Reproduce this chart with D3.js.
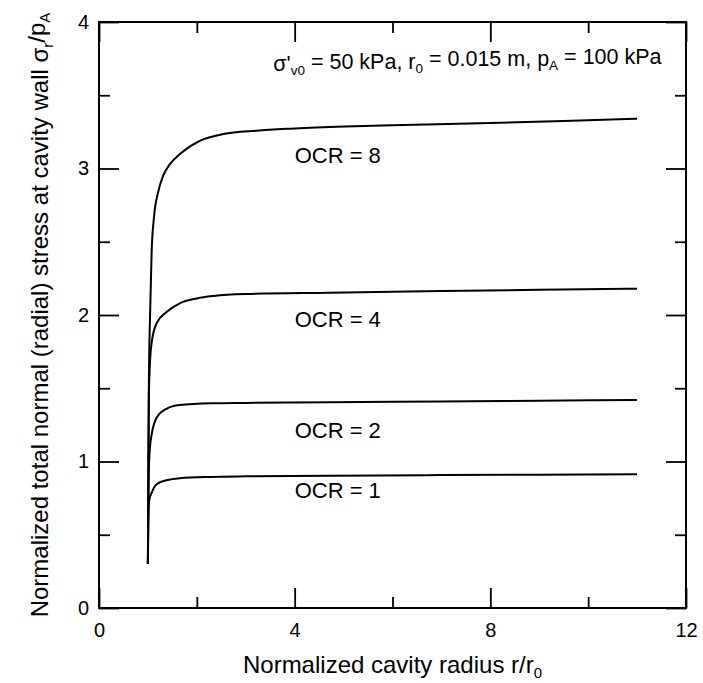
<!DOCTYPE html>
<html>
<head>
<meta charset="utf-8">
<script src="https://cdn.jsdelivr.net/npm/d3@7/dist/d3.min.js"></script>
<style>
  html, body { margin: 0; padding: 0; background: #fff; }
  svg text { font-family: "Liberation Sans", Arial, sans-serif; fill: #000; }
</style>
</head>
<body>
<svg id="chart" width="703" height="683"></svg>
<script>
// Normalized cavity radius r/r0 and normalized radial stress at the cavity wall
const ocr1X = [1.0, 1.004, 1.01, 1.03, 1.08, 1.18, 1.38, 1.65, 2.3, 3.0, 4.7, 7.0, 9.0, 11.0];
const ocr1Y = [0.30, 0.50, 0.66, 0.74, 0.79, 0.845, 0.872, 0.886, 0.895, 0.899, 0.903, 0.907, 0.910, 0.913];

const ocr2X = [1.0, 1.004, 1.01, 1.02, 1.04, 1.08, 1.18, 1.38, 1.65, 2.3, 3.0, 4.7, 7.0, 9.0, 11.0];
const ocr2Y = [0.30, 0.52, 0.76, 0.96, 1.09, 1.19, 1.30, 1.36, 1.385, 1.397, 1.400, 1.405, 1.410, 1.415, 1.420];

const ocr4X = [1.0, 1.004, 1.01, 1.02, 1.04, 1.08, 1.18, 1.38, 1.65, 2.0, 2.35, 3.0, 4.7, 7.0, 9.0, 11.0];
const ocr4Y = [0.30, 0.55, 1.0, 1.45, 1.66, 1.82, 1.945, 2.02, 2.08, 2.113, 2.13, 2.143, 2.152, 2.163, 2.172, 2.180];

const ocr8X = [1.0, 1.004, 1.01, 1.02, 1.043, 1.077, 1.125, 1.21, 1.31, 1.45, 1.66, 2.07, 2.54, 3.22, 3.91, 4.86, 6.0, 8.0, 9.5, 11.0];
const ocr8Y = [0.30, 0.56, 1.05, 1.55, 1.99, 2.44, 2.67, 2.84, 2.95, 3.03, 3.10, 3.19, 3.235, 3.258, 3.272, 3.285, 3.295, 3.310, 3.325, 3.340];

const ocrNames = ["OCR = 1", "OCR = 2", "OCR = 4", "OCR = 8"];
// label anchor (left edge x, baseline y) in data units
const ocrLabelX = [4, 4, 4, 4];
const ocrLabelY = [0.75, 1.162, 1.92, 3.04];

const xMajorTicks = [0, 4, 8, 12];
const xMinorTicks = [2, 6, 10];
const yMajorTicks = [0, 1, 2, 3, 4];
const yMinorTicks = [0.5, 1.5, 2.5, 3.5];

const series = [
  { xs: ocr1X, ys: ocr1Y },
  { xs: ocr2X, ys: ocr2Y },
  { xs: ocr4X, ys: ocr4Y },
  { xs: ocr8X, ys: ocr8Y }
];

const svg = d3.select("#chart");
const plotLeft = 99, plotRight = 686, plotTop = 22, plotBottom = 608;

const x = d3.scaleLinear().domain([0, 12]).range([plotLeft, plotRight]);
const y = d3.scaleLinear().domain([0, 4]).range([plotBottom, plotTop]);

const FONT_TICK = 20;
const MAJOR = 20, MINOR = 11;

function styleAxis(g) {
  g.select(".domain").remove();
  g.selectAll(".tick line").attr("stroke", "#000").attr("stroke-width", 1.8);
  g.selectAll("text").attr("font-size", FONT_TICK).attr("font-family", "Liberation Sans, Arial, sans-serif").attr("fill", "#000");
}

// bottom axis: labelled majors and minors, ticks pointing inward
svg.append("g").attr("transform", `translate(0,${plotBottom})`)
  .call(d3.axisBottom(x).tickValues(xMajorTicks).tickSizeInner(-MAJOR).tickSizeOuter(0).tickPadding(15).tickFormat(d3.format("d")))
  .call(styleAxis);
svg.append("g").attr("transform", `translate(0,${plotBottom})`)
  .call(d3.axisBottom(x).tickValues(xMinorTicks).tickSizeInner(-MINOR).tickSizeOuter(0).tickFormat(""))
  .call(styleAxis);
// top axis
svg.append("g").attr("transform", `translate(0,${plotTop})`)
  .call(d3.axisTop(x).tickValues(xMajorTicks).tickSizeInner(-MAJOR).tickSizeOuter(0).tickFormat(""))
  .call(styleAxis);
svg.append("g").attr("transform", `translate(0,${plotTop})`)
  .call(d3.axisTop(x).tickValues(xMinorTicks).tickSizeInner(-MINOR).tickSizeOuter(0).tickFormat(""))
  .call(styleAxis);
// left axis
svg.append("g").attr("transform", `translate(${plotLeft},0)`)
  .call(d3.axisLeft(y).tickValues(yMajorTicks).tickSizeInner(-MAJOR).tickSizeOuter(0).tickPadding(10).tickFormat(d3.format("d")))
  .call(styleAxis);
svg.append("g").attr("transform", `translate(${plotLeft},0)`)
  .call(d3.axisLeft(y).tickValues(yMinorTicks).tickSizeInner(-MINOR).tickSizeOuter(0).tickFormat(""))
  .call(styleAxis);
// right axis
svg.append("g").attr("transform", `translate(${plotRight},0)`)
  .call(d3.axisRight(y).tickValues(yMajorTicks).tickSizeInner(-MAJOR).tickSizeOuter(0).tickFormat(""))
  .call(styleAxis);
svg.append("g").attr("transform", `translate(${plotRight},0)`)
  .call(d3.axisRight(y).tickValues(yMinorTicks).tickSizeInner(-MINOR).tickSizeOuter(0).tickFormat(""))
  .call(styleAxis);

// plot frame
svg.append("rect")
  .attr("x", plotLeft).attr("y", plotTop)
  .attr("width", plotRight - plotLeft).attr("height", plotBottom - plotTop)
  .attr("fill", "none").attr("stroke", "#000").attr("stroke-width", 2);

// curves
const line = d3.line()
  .x(d => x(d[0]))
  .y(d => y(d[1]))
  .curve(d3.curveMonotoneX);

svg.append("g").selectAll("path")
  .data(series)
  .join("path")
  .attr("d", s => line(s.xs.map((v, i) => [v, s.ys[i]])))
  .attr("fill", "none")
  .attr("stroke", "#000")
  .attr("stroke-width", 2)
  .attr("stroke-linejoin", "round");

// curve labels
svg.append("g").selectAll("text")
  .data(ocrNames)
  .join("text")
  .attr("x", (d, i) => x(ocrLabelX[i]))
  .attr("y", (d, i) => y(ocrLabelY[i]))
  .attr("font-size", 22)
  .text(d => d);

// helper for text with subscripts: parts = [[text, isSub], ...]
function richText(sel, parts, subSize) {
  parts.forEach(([t, sub], i) => {
    const prevSub = i > 0 && parts[i - 1][1];
    const ts = sel.append("tspan").text(t);
    if (sub) ts.attr("font-size", subSize).attr("dy", "0.3em");
    else if (prevSub) ts.attr("dy", "-0.3em");
  });
}

// parameters note
const note = svg.append("text")
  .attr("x", x(11.5))
  .attr("y", y(3.665))
  .attr("text-anchor", "end")
  .attr("font-size", 21.5);
richText(note, [["σ'", false], ["v0", true], [" = 50 kPa, r", false], ["0", true],
  [" = 0.015 m, p", false], ["A", true], [" = 100 kPa", false]], 13.5);

// x-axis title
const xt = svg.append("text")
  .attr("x", (plotLeft + plotRight) / 2)
  .attr("y", 673)
  .attr("text-anchor", "middle")
  .attr("font-size", 24);
richText(xt, [["Normalized cavity radius r/r", false], ["0", true]], 15);

// y-axis title
const yt = svg.append("text")
  .attr("transform", `translate(48,${(plotTop + plotBottom) / 2}) rotate(-90)`)
  .attr("text-anchor", "middle")
  .attr("font-size", 24);
richText(yt, [["Normalized total normal (radial) stress at cavity wall σ", false], ["r", true],
  ["/p", false], ["A", true]], 15);
</script>
</body>
</html>
